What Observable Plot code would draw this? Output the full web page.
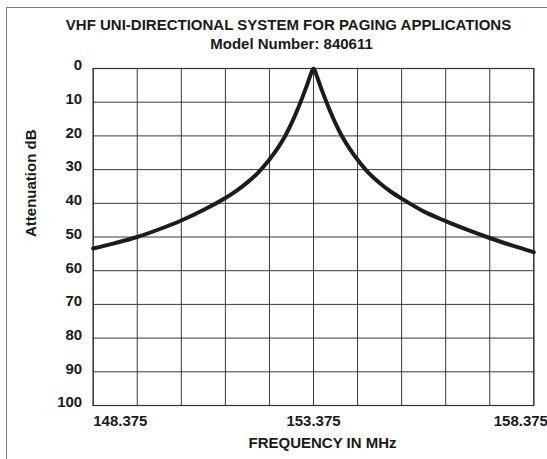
<!DOCTYPE html>
<html>
<head>
<meta charset="utf-8">
<script src="https://cdn.jsdelivr.net/npm/d3@7"></script>
<script src="https://cdn.jsdelivr.net/npm/@observablehq/plot@0.6"></script>
<style>
  html, body { margin: 0; padding: 0; background: #fff; }
  #wrap { position: relative; width: 547px; height: 459px; overflow: hidden; }
  #border { position: absolute; left: 6px; top: 7px; right: -10px; bottom: -10px;
            border-left: 1.5px solid #777; border-top: 1.5px solid #777; pointer-events: none; }
</style>
</head>
<body>
<div id="wrap"><div id="border"></div></div>
<script>
const titleText = "VHF UNI-DIRECTIONAL SYSTEM FOR PAGING APPLICATIONS";
const subtitleText = "Model Number: 840611";
const xLabelText = "FREQUENCY IN MHz";
const yLabelText = "Attenuation dB";

const freqs = [148.375, 148.875, 149.375, 149.875, 150.375, 150.875, 151.375, 151.625, 151.875, 152.125, 152.375, 152.575, 152.725, 152.875, 153.025, 153.125, 153.225, 153.3, 153.375, 153.45, 153.525, 153.625, 153.725, 153.875, 154.025, 154.175, 154.375, 154.625, 154.875, 155.125, 155.375, 155.875, 156.375, 156.875, 157.375, 157.875, 158.375];
const atten = [53.4, 51.8, 50.0, 47.7, 45.1, 42.0, 38.4, 36.3, 33.8, 30.8, 27.0, 23.4, 20.2, 16.3, 11.8, 8.5, 5.0, 2.2, 0.0, 2.2, 5.0, 8.5, 11.8, 16.3, 20.2, 23.4, 27.1, 31.0, 34.0, 36.5, 38.6, 42.4, 45.3, 47.9, 50.3, 52.5, 54.5];

const yTicks = [0, 10, 20, 30, 40, 50, 60, 70, 80, 90, 100];
const xGrid = [148.375, 149.375, 150.375, 151.375, 152.375, 153.375, 154.375, 155.375, 156.375, 157.375, 158.375];
const xTickValues = [148.375, 153.375, 158.375];
const xTickLabels = ["148.375", "153.375", "158.375"];

const data = freqs.map((f, i) => ({f, a: atten[i]}));
const tickObjs = xTickValues.map((v, i) => ({v, label: xTickLabels[i]}));

const chart = Plot.plot({
  width: 547,
  height: 459,
  marginLeft: 92.7,
  marginRight: 13.7,
  marginTop: 68,
  marginBottom: 54,
  style: {fontFamily: "'Liberation Sans', Arial, sans-serif", fontSize: "15px", fontWeight: "bold", color: "#1a1a1a", background: "transparent"},
  x: {domain: [148.375, 158.375], axis: null},
  y: {domain: [0, 100], reverse: true, axis: null},
  marks: [
    Plot.gridX(xGrid, {stroke: "#3a3a3a", strokeOpacity: 1, strokeWidth: 1}),
    Plot.gridY(yTicks, {stroke: "#3a3a3a", strokeOpacity: 1, strokeWidth: 1}),
    Plot.frame({stroke: "#333", strokeWidth: 1.2}),
    Plot.axisY(yTicks, {tickSize: 0, tickPadding: 11, dy: -3, label: null, fontSize: 15, fontWeight: "bold"}),
    Plot.text([tickObjs[0]], {x: "v", text: "label", frameAnchor: "bottom", dy: 15.5, textAnchor: "start", fontSize: 15, fontWeight: "bold", lineAnchor: "middle"}),
    Plot.text([tickObjs[1]], {x: "v", text: "label", frameAnchor: "bottom", dy: 15.5, textAnchor: "middle", fontSize: 15, fontWeight: "bold", lineAnchor: "middle"}),
    Plot.text([tickObjs[2]], {x: "v", text: "label", frameAnchor: "bottom", dy: 15.5, dx: -13, textAnchor: "middle", fontSize: 15, fontWeight: "bold", lineAnchor: "middle"}),
    Plot.text([xLabelText], {frameAnchor: "bottom", dy: 38, dx: 9, lineAnchor: "middle", fontSize: 15, fontWeight: "bold"}),
    Plot.text([yLabelText], {frameAnchor: "left", dx: -62, rotate: -90, lineAnchor: "middle", fontSize: 15, fontWeight: "bold"}),
    Plot.text([titleText], {frameAnchor: "top", dy: -43, dx: -25, lineAnchor: "middle", fontSize: 15, fontWeight: "bold"}),
    Plot.text([subtitleText], {frameAnchor: "top", dy: -24, dx: -22, lineAnchor: "middle", fontSize: 15, fontWeight: "bold"}),
    Plot.line(data, {x: "f", y: "a", curve: "catmull-rom", stroke: "#1c1c1c", strokeWidth: 4})
  ]
});
document.getElementById("wrap").prepend(chart);
</script>
</body>
</html>
